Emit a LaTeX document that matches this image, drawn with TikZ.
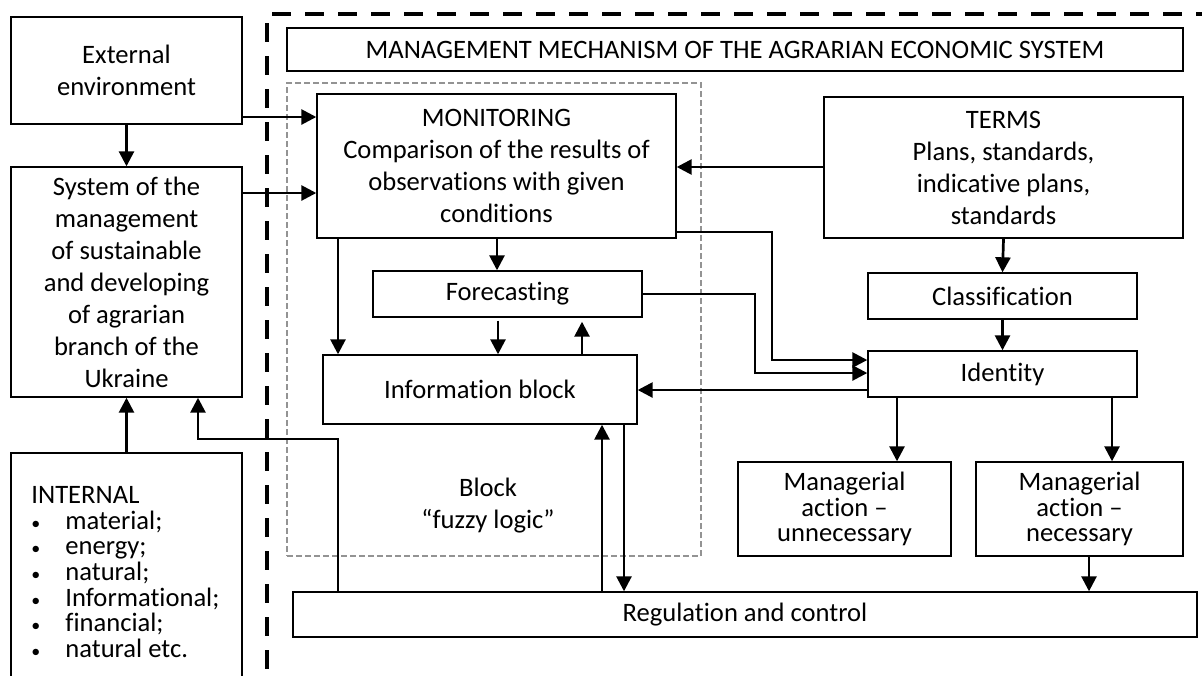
\documentclass[tikz,border=0pt]{standalone}
\usepackage{fontspec}
\setmainfont[Ligatures=NoCommon]{Carlito}
\usetikzlibrary{arrows.meta}
\begin{document}
\begin{tikzpicture}[x=0.5pt,y=-0.5pt,
  box/.style={draw, line width=0.7pt, inner sep=0pt, align=center, font=\fontsize{13.3}{16}\selectfont},
  tight/.style={font=\fontsize{13.3}{12.8}\selectfont},
  plain/.style={inner sep=0pt, align=center, font=\fontsize{13.3}{16}\selectfont},
  arr/.style={line width=1.35pt, -{Triangle[length=7.5pt,width=7.5pt]}},
  bigdash/.style={line width=2.3pt, dash pattern=on 9.5pt off 7pt},
  graydash/.style={draw=gray!85, line width=1.3pt, dash pattern=on 3pt off 1.5pt}]
\clip (0,0) rectangle (1202,675);
% frame of the management mechanism
\draw[bigdash] (267,23) -- (267,690);
\draw[bigdash] (272,14) -- (1215,14);
% fuzzy logic block
\node[graydash, minimum width=207pt, minimum height=236.5pt, inner sep=0pt] (fuzzy) at (494,319.5) {};
\node[plain] (fuzzytext) at (488,506) {Block\\“fuzzy logic”};
% left column
\node[box, minimum width=115.5pt, minimum height=53.5pt] (ext) at (126.5,70.5) {External\\environment};
\node[box, minimum width=115.5pt, minimum height=115pt] (sys) at (126.5,282) {System of the\\management\\of sustainable\\and developing\\of agrarian\\branch of the\\Ukraine};
\node[box, minimum width=115.5pt, minimum height=123.5pt] (int) at (126.5,576.5) {};
\node[inner sep=0pt, align=left, font=\fontsize{13.3}{12.85}\selectfont, anchor=west] (intlist) at (31,572) {INTERNAL\\
\makebox[17pt][l]{\small•}material;\\
\makebox[17pt][l]{\small•}energy;\\
\makebox[17pt][l]{\small•}natural;\\
\makebox[17pt][l]{\small•}Informational;\\
\makebox[17pt][l]{\small•}financial;\\
\makebox[17pt][l]{\small•}natural etc.};
% right part
\node[box, minimum width=448pt, minimum height=21.5pt] (title) at (735,49.5) {MANAGEMENT MECHANISM OF THE AGRARIAN ECONOMIC SYSTEM};
\node[box, minimum width=179.5pt, minimum height=72pt] (mon) at (496.5,166) {MONITORING\\Comparison of the results of\\observations with given\\conditions};
\node[box, minimum width=179.5pt, minimum height=70.5pt] (terms) at (1003.5,167.5) {TERMS\\Plans, standards,\\indicative plans,\\standards};
\node[box, minimum width=134.5pt, minimum height=23pt] (fore) at (507.5,294) {Forecasting};
\node[box, minimum width=157pt, minimum height=34.5pt] (ib) at (480,389.5) {Information block};
\node[box, minimum width=134.5pt, minimum height=23pt] (cls) at (1002.5,296) {Classification};
\node[box, minimum width=134.5pt, minimum height=23pt] (ident) at (1002.5,374) {Identity};
\node[box, tight, minimum width=106.5pt, minimum height=47pt] (unnec) at (844.5,509) {Managerial\\action –\\unnecessary};
\node[box, tight, minimum width=103.5pt, minimum height=47pt] (nec) at (1079.5,509) {Managerial\\action –\\necessary};
\node[box, minimum width=452pt, minimum height=22.5pt] (reg) at (745,614.5) {Regulation and control};
% connectors
\draw[arr] (ext.south) -- (sys.north);
\draw[arr] (int.north) -- (sys.south);
\draw[arr] (ext.east |- 0,117) -- (mon.west |- 0,117);
\draw[arr] (sys.east |- 0,193) -- (mon.west |- 0,193);
\draw[arr] (reg.north -| 338,0) -- (338,439) -- (198,439) -- (sys.south -| 198,0);
\draw[arr] (terms.west |- 0,167) -- (mon.east |- 0,167);
\draw[arr] (mon.south -| 497,0) -- (fore.north -| 497,0);
\draw[arr] (mon.south -| 338,0) -- (ib.north -| 338,0);
\draw[arr, shorten <=1.5pt] (fore.south -| 498,0) -- (ib.north -| 498,0);
\draw[arr, shorten >=2pt] (ib.north -| 582,0) -- (fore.south -| 582,0);
\draw[arr] (reg.north -| 602,0) -- (ib.south -| 602,0);
\draw[arr] (ib.south -| 624,0) -- (reg.north -| 624,0);
\draw[arr] (terms.south) -- (cls.north);
\draw[arr] (cls.south) -- (ident.north);
\draw[arr] (ident.west |- 0,390) -- (ib.east |- 0,390);
\draw[arr] (mon.east |- 0,232) -- (772,232) -- (772,360) -- (ident.west |- 0,360);
\draw[arr] (fore.east |- 0,294) -- (755,294) -- (755,373) -- (ident.west |- 0,373);
\draw[arr] (ident.south -| 897,0) -- (unnec.north -| 897,0);
\draw[arr] (ident.south -| 1112,0) -- (nec.north -| 1112,0);
\draw[arr] (nec.south -| 1089,0) -- (reg.north -| 1089,0);
\end{tikzpicture}
\end{document}
